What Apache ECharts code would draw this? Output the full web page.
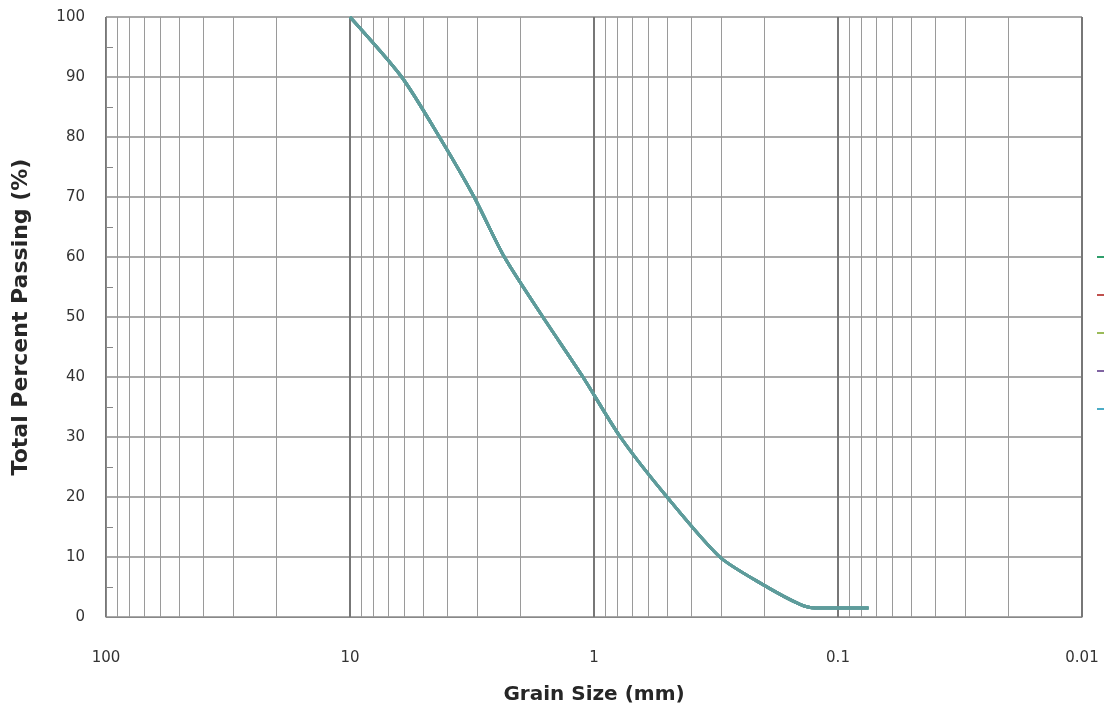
<!DOCTYPE html>
<html>
<head>
<meta charset="utf-8">
<script src="https://cdn.jsdelivr.net/npm/echarts@6/dist/echarts.min.js"></script>
<style>
html,body{margin:0;padding:0;background:#fff;}
#chart{width:1106px;height:710px;}
</style>
</head>
<body>
<div id="chart"></div>
<script>
// Grain size (mm) and total percent passing (%)
const grainSize = [10, 6.14, 4.3, 3.1, 2.33, 1.62, 1.11, 0.78, 0.502, 0.305, 0.203, 0.143, 0.124, 0.075];
const passing   = [100, 90, 80, 70, 60, 50, 40, 30, 20, 10, 5.4, 2.1, 1.5, 1.5];
const seriesNames = ['Sample 1', 'Sample 2', 'Sample 3', 'Sample 4', 'Sample 5'];
const legendColors = ['#2e9e6a', '#c0504d', '#9bbb59', '#8064a2', '#4bacc6'];
const xTickLabels = [100, 10, 1, 0.1, 0.01];
const yTicks = [0, 10, 20, 30, 40, 50, 60, 70, 80, 90, 100];
const minorGrid = [];
[10, 1, 0.1, 0.01].forEach(function (d) {
  for (let k = 2; k <= 9; k++) minorGrid.push(+(k * d).toPrecision(3));
});

const pts = grainSize.map(function (g, i) { return [g, passing[i]]; });

const series = seriesNames.map(function (name, i) {
  return {
    name: name,
    type: 'line',
    data: pts,
    smooth: 0.25,
    showSymbol: false,
    symbol: 'none',
    itemStyle: { color: legendColors[i] },
    lineStyle: { color: '#5e9c9b', width: 3 },
    z: 5
  };
});
series.unshift({
  name: '__grid',
  type: 'line',
  data: [],
  silent: true,
  markLine: {
    silent: true,
    symbol: 'none',
    label: { show: false },
    lineStyle: { color: '#9a9a9a', width: 1, type: 'solid' },
    data: minorGrid.map(function (v) { return { xAxis: v }; })
  },
  z: 1
});

const chart = echarts.init(document.getElementById('chart'), null, { renderer: 'canvas' });
chart.setOption({
  animation: false,
  backgroundColor: '#ffffff',
  grid: { left: 106, right: 24, top: 17, bottom: 84, containLabel: false },
  legend: {
    orient: 'vertical',
    left: 1097,
    top: 256,
    itemWidth: 7,
    itemHeight: 2,
    itemGap: 36,
    icon: 'rect',
    formatter: function () { return ''; },
    textStyle: { fontSize: 2, lineHeight: 2, padding: 0 },
    padding: 0,
    data: seriesNames.map(function (n, i) {
      return { name: n, itemStyle: { color: legendColors[i] } };
    })
  },
  xAxis: {
    type: 'log',
    logBase: 10,
    min: 0.01,
    max: 100,
    inverse: true,
    name: 'Grain Size (mm)',
    nameLocation: 'middle',
    nameGap: 68,
    nameTextStyle: { fontFamily: 'DejaVu Sans', fontWeight: 'bold', fontSize: 20, color: '#262626' },
    axisLine: { show: true, lineStyle: { color: '#888', width: 1 } },
    axisTick: { show: false },
    axisLabel: {
      margin: 34,
      fontFamily: 'DejaVu Sans',
      fontSize: 15,
      color: '#333',
      formatter: function (v) {
        const m = xTickLabels.find(function (t) { return Math.abs(Math.log10(t) - Math.log10(v)) < 1e-6; });
        return m === undefined ? '' : String(m);
      }
    },
    splitLine: { show: true, lineStyle: { color: '#777', width: 2 } }
  },
  yAxis: {
    type: 'value',
    min: 0,
    max: 100,
    interval: 10,
    name: 'Total Percent Passing (%)',
    nameLocation: 'middle',
    nameGap: 74,
    nameTextStyle: { fontFamily: 'DejaVu Sans', fontWeight: 'bold', fontSize: 22, color: '#262626' },
    axisLine: { show: true, lineStyle: { color: '#888', width: 1 } },
    axisTick: { show: false, inside: true, length: 7 },
    minorTick: { show: true, splitNumber: 2, length: 7, lineStyle: { color: '#888', width: 1 } },
    axisLabel: {
      margin: 21,
      fontFamily: 'DejaVu Sans',
      fontSize: 15,
      color: '#333',
      formatter: function (v) { return yTicks.indexOf(v) >= 0 ? String(v) : ''; }
    },
    splitLine: { show: true, lineStyle: { color: '#8c8c8c', width: 1.5 } }
  },
  series: series
});
</script>
</body>
</html>
